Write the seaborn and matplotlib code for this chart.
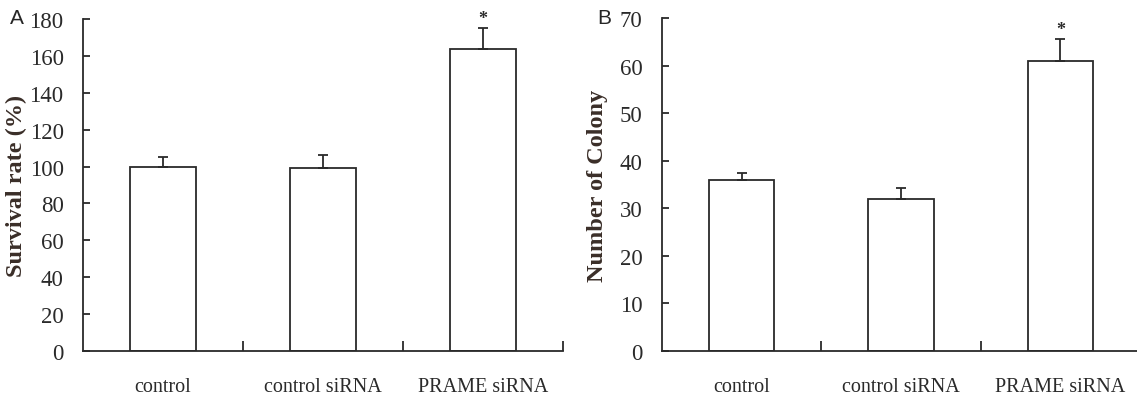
import numpy as np
import pandas as pd
import matplotlib
matplotlib.use("Agg")
import matplotlib.pyplot as plt
import seaborn as sns

# Data
groups = ["control", "control siRNA", "PRAME siRNA"]
survival_mean = [100, 99, 164]
survival_err = [5, 7.5, 11]
colony_mean = [36, 32, 61]
colony_err = [1.5, 2.2, 4.5]
significant = [False, False, True]

sns.set_theme(style="white")
plt.rcParams["font.family"] = ["Liberation Serif", "DejaVu Serif"]

ink = "#2a2a2a"
fig = plt.figure(figsize=(11.37, 4.02), dpi=100)
ax_a = fig.add_axes([83 / 1137, 1 - 352 / 402, 480 / 1137, 332 / 402])
ax_b = fig.add_axes([662 / 1137, 1 - 352 / 402, 478 / 1137, 333 / 402])


def draw_panel(ax, means, errs, ymax, step, ylabel, label_x):
    df = pd.DataFrame({"group": groups, "value": means})
    sns.barplot(data=df, x="group", y="value", color="white", edgecolor=ink,
                linewidth=1.3, width=0.41, errorbar=None, saturation=1, ax=ax)
    x = np.arange(len(groups))
    ax.errorbar(x, means, yerr=[np.zeros(len(means)), errs], fmt="none",
                ecolor=ink, elinewidth=1.3, capsize=3.5, capthick=1.3)
    for xi, m, e, s in zip(x, means, errs, significant):
        if s:
            ax.annotate("*", (xi, m + e), xytext=(0, 1), textcoords="offset points",
                        ha="center", va="bottom", fontsize=13, fontweight="bold",
                        color=ink, annotation_clip=False)

    ax.set_xlim(-0.5, 2.5)
    ax.set_ylim(0, ymax)
    ax.set_yticks(np.arange(0, ymax + 1, step))
    ax.set_xlabel("")
    ax.set_ylabel(ylabel, fontsize=17.5, fontweight="bold", color="#3a2e28")
    ax.yaxis.set_label_coords(label_x, 0.5)

    # category separators as small upward ticks
    ax.set_xticks([0.5, 1.5, 2.5], minor=True)
    ax.tick_params(axis="x", which="minor", direction="in", length=7,
                   width=1.3, color=ink, bottom=True)
    ax.tick_params(axis="x", which="major", length=0, pad=19,
                   labelsize=14.5, labelcolor=ink)
    ax.tick_params(axis="y", direction="in", length=5, width=1.3, color=ink,
                   left=True, pad=14, labelsize=16.5, labelcolor=ink)

    sns.despine(ax=ax)
    for side in ["left", "bottom"]:
        ax.spines[side].set_color(ink)
        ax.spines[side].set_linewidth(1.3)


draw_panel(ax_a, survival_mean, survival_err, 180, 20,
           "Survival rate (%)", -0.117)
draw_panel(ax_b, colony_mean, colony_err, 70, 10,
           "Number of Colony", -0.113)

# panel letters
fig.text(10 / 1137, 1 - 19 / 402, "A", fontsize=15, family="Liberation Sans",
         ha="left", va="center")
fig.text(597 / 1137, 1 - 19 / 402, "B", fontsize=15, family="Liberation Sans",
         ha="left", va="center")

fig.savefig("out.png", dpi=100, facecolor="white")
